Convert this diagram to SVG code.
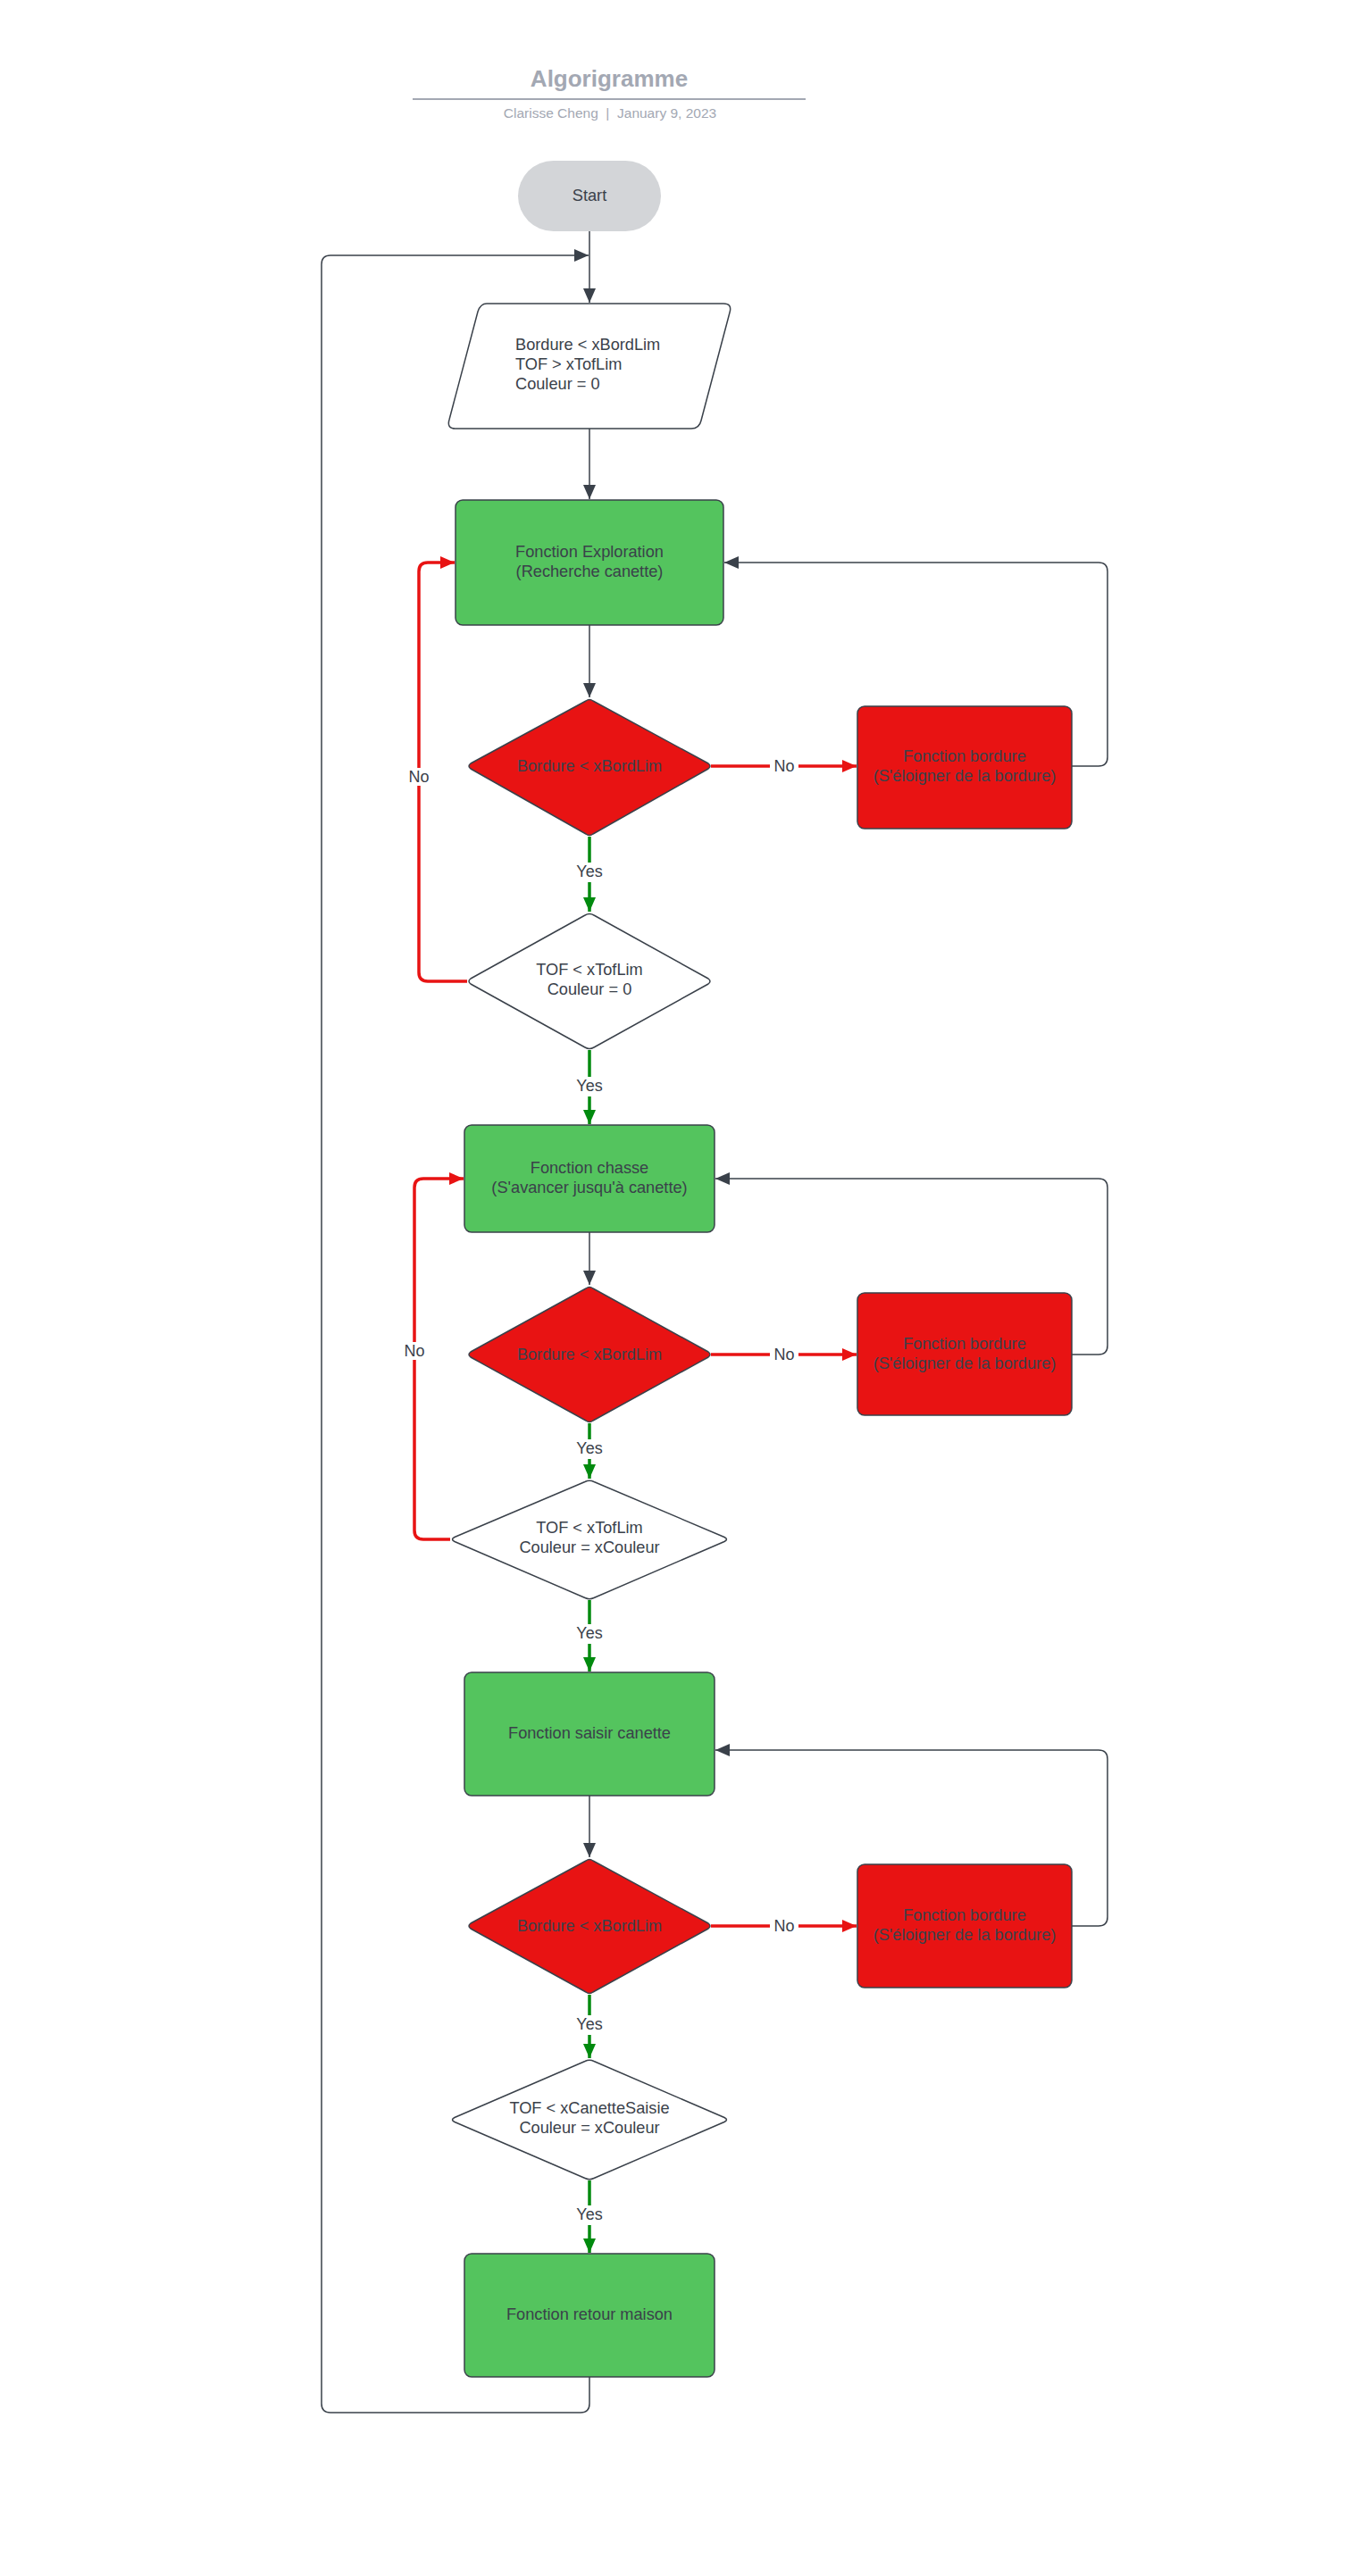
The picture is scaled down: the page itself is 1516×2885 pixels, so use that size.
<svg xmlns="http://www.w3.org/2000/svg" width="1516" height="2885" viewBox="0 0 1516 2885">
<defs>
<style>
text{font-family:"Liberation Sans",Arial,sans-serif;fill:#3a414a;font-size:18.2px}
.c{text-anchor:middle}
.ttl{font-size:26px;font-weight:bold;fill:#a3a8b3}
.sub{font-size:15.5px;fill:#a3a8b3}
.lbl{font-size:18px}
.g{fill:#54c45e;stroke:#3a414a;stroke-width:1.5}
.r{fill:#e81313;stroke:#3a414a;stroke-width:1.5}
.w{fill:#ffffff;stroke:#3a414a;stroke-width:1.5}
.e{fill:none;stroke:#3a414a;stroke-width:1.5}
.eg{fill:none;stroke:#008a0e;stroke-width:3.5}
.er{fill:none;stroke:#e81313;stroke-width:3.5}
.bg{fill:#ffffff}
</style>
<marker id="ad" markerUnits="userSpaceOnUse" markerWidth="18" markerHeight="14" refX="16" refY="7" orient="auto"><path d="M0,0 L16,7 L0,14 Z" fill="#3a414a"/></marker>
<marker id="ag" markerUnits="userSpaceOnUse" markerWidth="18" markerHeight="14" refX="16" refY="7" orient="auto"><path d="M0,0 L16,7 L0,14 Z" fill="#008a0e"/></marker>
<marker id="ar" markerUnits="userSpaceOnUse" markerWidth="18" markerHeight="14" refX="16" refY="7" orient="auto"><path d="M0,0 L16,7 L0,14 Z" fill="#e81313"/></marker>
</defs>
<rect width="1516" height="2885" fill="#ffffff"/>
<g id="title">
<text class="ttl c" x="682" y="97">Algorigramme</text>
<line x1="462" y1="111" x2="902" y2="111" stroke="#a3a8b3" stroke-width="2"/>
<text class="sub c" x="683" y="132">Clarisse Cheng &#160;|&#160; January 9, 2023</text>
</g>
<g id="connectors">
<line class="e" x1="660" y1="259" x2="660" y2="339" marker-end="url(#ad)"/>
<path class="e" d="M660,2662 V2692 Q660,2702 650,2702 H370 Q360,2702 360,2692 V296 Q360,286 370,286 H659" marker-end="url(#ad)"/>
<line class="e" x1="660" y1="480" x2="660" y2="559" marker-end="url(#ad)"/>
<line class="e" x1="660" y1="700" x2="660" y2="781" marker-end="url(#ad)"/>
<line class="er" x1="796" y1="858" x2="959" y2="858" marker-end="url(#ar)"/>
<path class="e" d="M1200,858 H1230 Q1240,858 1240,848 V640 Q1240,630 1230,630 H811" marker-end="url(#ad)"/>
<line class="eg" x1="660" y1="937" x2="660" y2="1021" marker-end="url(#ag)"/>
<path class="er" d="M523,1099 H479 Q469,1099 469,1089 V640 Q469,630 479,630 H509" marker-end="url(#ar)"/>
<line class="eg" x1="660" y1="1176" x2="660" y2="1259" marker-end="url(#ag)"/>
<line class="e" x1="660" y1="1380" x2="660" y2="1439" marker-end="url(#ad)"/>
<line class="er" x1="796" y1="1517" x2="959" y2="1517" marker-end="url(#ar)"/>
<path class="e" d="M1200,1517 H1230 Q1240,1517 1240,1507 V1330 Q1240,1320 1230,1320 H801" marker-end="url(#ad)"/>
<line class="eg" x1="660" y1="1594" x2="660" y2="1656" marker-end="url(#ag)"/>
<path class="er" d="M504,1724 H474 Q464,1724 464,1714 V1330 Q464,1320 474,1320 H519" marker-end="url(#ar)"/>
<line class="eg" x1="660" y1="1792" x2="660" y2="1872" marker-end="url(#ag)"/>
<line class="e" x1="660" y1="2011" x2="660" y2="2080" marker-end="url(#ad)"/>
<line class="er" x1="796" y1="2157" x2="959" y2="2157" marker-end="url(#ar)"/>
<path class="e" d="M1200,2157 H1230 Q1240,2157 1240,2147 V1970 Q1240,1960 1230,1960 H801" marker-end="url(#ad)"/>
<line class="eg" x1="660" y1="2234" x2="660" y2="2305" marker-end="url(#ag)"/>
<line class="eg" x1="660" y1="2442" x2="660" y2="2523" marker-end="url(#ag)"/>
<rect class="bg" x="862" y="848" width="32" height="20"/><text class="lbl c" x="878" y="864">No</text>
<rect class="bg" x="453" y="860" width="32" height="20"/><text class="lbl c" x="469" y="876">No</text>
<rect class="bg" x="641" y="966" width="38" height="22"/><text class="lbl c" x="660" y="982">Yes</text>
<rect class="bg" x="641" y="1206" width="38" height="22"/><text class="lbl c" x="660" y="1222">Yes</text>
<rect class="bg" x="862" y="1507" width="32" height="20"/><text class="lbl c" x="878" y="1523">No</text>
<rect class="bg" x="448" y="1503" width="32" height="20"/><text class="lbl c" x="464" y="1519">No</text>
<rect class="bg" x="641" y="1612" width="38" height="22"/><text class="lbl c" x="660" y="1628">Yes</text>
<rect class="bg" x="641" y="1819" width="38" height="22"/><text class="lbl c" x="660" y="1835">Yes</text>
<rect class="bg" x="862" y="2147" width="32" height="20"/><text class="lbl c" x="878" y="2163">No</text>
<rect class="bg" x="641" y="2257" width="38" height="22"/><text class="lbl c" x="660" y="2273">Yes</text>
<rect class="bg" x="641" y="2470" width="38" height="22"/><text class="lbl c" x="660" y="2486">Yes</text>
</g>
<g id="start">
<rect x="580" y="180" width="160" height="79" rx="39.5" fill="#d3d5d8"/>
<text class="c" x="660" y="225">Start</text>
</g>
<g id="init">
<path class="w" d="M545,340 H810 Q820,340 817,350 L785,471 Q783,480 774,480 H510 Q500,480 503,470 L535,349 Q538,340 545,340 Z"/>
<text x="577" y="392">Bordure &lt; xBordLim</text>
<text x="577" y="414">TOF &gt; xTofLim</text>
<text x="577" y="436">Couleur = 0</text>
</g>
<g id="exploration">
<rect class="g" x="510" y="560" width="300" height="140" rx="8"/>
<text class="c" x="660" y="624">Fonction Exploration</text>
<text class="c" x="660" y="646">(Recherche canette)</text>
</g>
<g id="dec1">
<path class="r" d="M656,785 Q660,782 664,785 L793,855 Q797,858 793,861 L664,934 Q660,937 656,934 L527,861 Q523,858 527,855 Z"/>
<text class="c" x="660" y="864">Bordure &lt; xBordLim</text>
</g>
<g id="bordure1">
<rect class="r" x="960" y="791" width="240" height="137" rx="8"/>
<text class="c" x="1080" y="853">Fonction bordure</text>
<text class="c" x="1080" y="875">(S'éloigner de la bordure)</text>
</g>
<g id="dec2">
<path class="w" d="M655,1025 Q660,1022 665,1025 L793,1096 Q797,1099 793,1102 L665,1173 Q660,1176 655,1173 L527,1102 Q523,1099 527,1096 Z"/>
<text class="c" x="660" y="1092">TOF &lt; xTofLim</text>
<text class="c" x="660" y="1114">Couleur = 0</text>
</g>
<g id="chasse">
<rect class="g" x="520" y="1260" width="280" height="120" rx="8"/>
<text class="c" x="660" y="1314">Fonction chasse</text>
<text class="c" x="660" y="1336">(S'avancer jusqu'à canette)</text>
</g>
<g id="dec3">
<path class="r" d="M656,1443 Q660,1440 664,1443 L793,1514 Q797,1517 793,1520 L664,1591 Q660,1594 656,1591 L527,1520 Q523,1517 527,1514 Z"/>
<text class="c" x="660" y="1523">Bordure &lt; xBordLim</text>
</g>
<g id="bordure2">
<rect class="r" x="960" y="1448" width="240" height="137" rx="8"/>
<text class="c" x="1080" y="1511">Fonction bordure</text>
<text class="c" x="1080" y="1533">(S'éloigner de la bordure)</text>
</g>
<g id="dec4">
<path class="w" d="M655,1659.5 Q660,1657 665,1659.5 L811,1721.5 Q816,1724 811,1726.5 L665,1789.5 Q660,1792 655,1789.5 L509,1726.5 Q504,1724 509,1721.5 Z"/>
<text class="c" x="660" y="1717">TOF &lt; xTofLim</text>
<text class="c" x="660" y="1739">Couleur = xCouleur</text>
</g>
<g id="saisir">
<rect class="g" x="520" y="1873" width="280" height="138" rx="8"/>
<text class="c" x="660" y="1947">Fonction saisir canette</text>
</g>
<g id="dec5">
<path class="r" d="M656,2084 Q660,2081 664,2084 L793,2154 Q797,2157 793,2160 L664,2231 Q660,2234 656,2231 L527,2160 Q523,2157 527,2154 Z"/>
<text class="c" x="660" y="2163">Bordure &lt; xBordLim</text>
</g>
<g id="bordure3">
<rect class="r" x="960" y="2088" width="240" height="138" rx="8"/>
<text class="c" x="1080" y="2151">Fonction bordure</text>
<text class="c" x="1080" y="2173">(S'éloigner de la bordure)</text>
</g>
<g id="dec6">
<path class="w" d="M655,2308.5 Q660,2306 665,2308.5 L811,2371.5 Q816,2374 811,2376.5 L665,2439.5 Q660,2442 655,2439.5 L509,2376.5 Q504,2374 509,2371.5 Z"/>
<text class="c" x="660" y="2367">TOF &lt; xCanetteSaisie</text>
<text class="c" x="660" y="2389">Couleur = xCouleur</text>
</g>
<g id="retour">
<rect class="g" x="520" y="2524" width="280" height="138" rx="8"/>
<text class="c" x="660" y="2598">Fonction retour maison</text>
</g>
</svg>
